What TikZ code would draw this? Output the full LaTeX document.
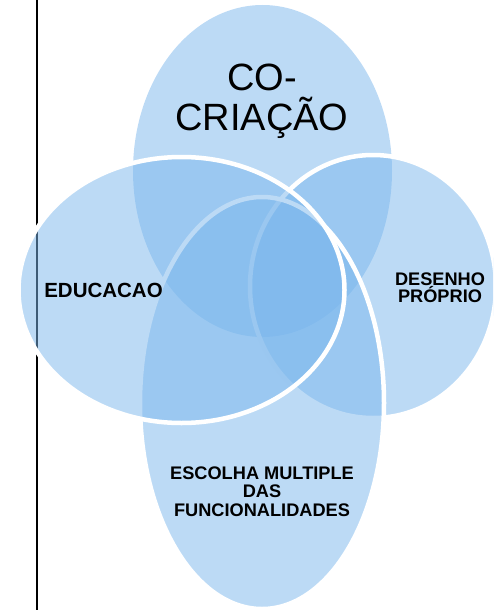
\documentclass[tikz,border=0pt]{standalone}
\usepackage{fontspec}
\setmainfont{Liberation Sans}
\definecolor{vennblue}{RGB}{122,182,236}

\begin{document}
\begin{tikzpicture}[x=1pt,y=-1pt,
  venn/.style={fill=vennblue,fill opacity=0.5,draw=white,line width=4.5pt},
  lbl/.style={align=center,inner sep=0pt,text=black}]
\path[use as bounding box,clip] (0,0) rectangle (493,610);

\draw[line width=2.2pt] (37,0) -- (37,610);

% the four ellipses, top one first
\fill[vennblue,fill opacity=0.5] (262.5,171) ellipse [x radius=129.5pt, y radius=166pt];
\draw[venn] (373,286.5) ellipse [x radius=123pt, y radius=131.5pt];
\draw[venn] (262,403) ellipse [x radius=122pt, y radius=206pt];
\draw[venn] (181.5,290) ellipse [x radius=163pt, y radius=133pt];

\node[lbl,anchor=north,font=\fontsize{38}{40}\selectfont] (cocriacao) at (262,64) {CO-\\CRIAÇÃO};
\node[lbl,anchor=base,font=\bfseries\fontsize{20.5}{22}\selectfont] (educacao) at (103.5,297) {EDUCACAO};
\node[lbl,anchor=north,font=\bfseries\fontsize{18.2}{17}\selectfont] (desenho) at (440,272.5) {DESENHO\\PRÓPRIO};
\node[lbl,anchor=north,font=\bfseries\fontsize{18.2}{18.5}\selectfont] (escolha) at (262,466.5) {ESCOLHA MULTIPLE\\DAS\\FUNCIONALIDADES};
\end{tikzpicture}
\end{document}
